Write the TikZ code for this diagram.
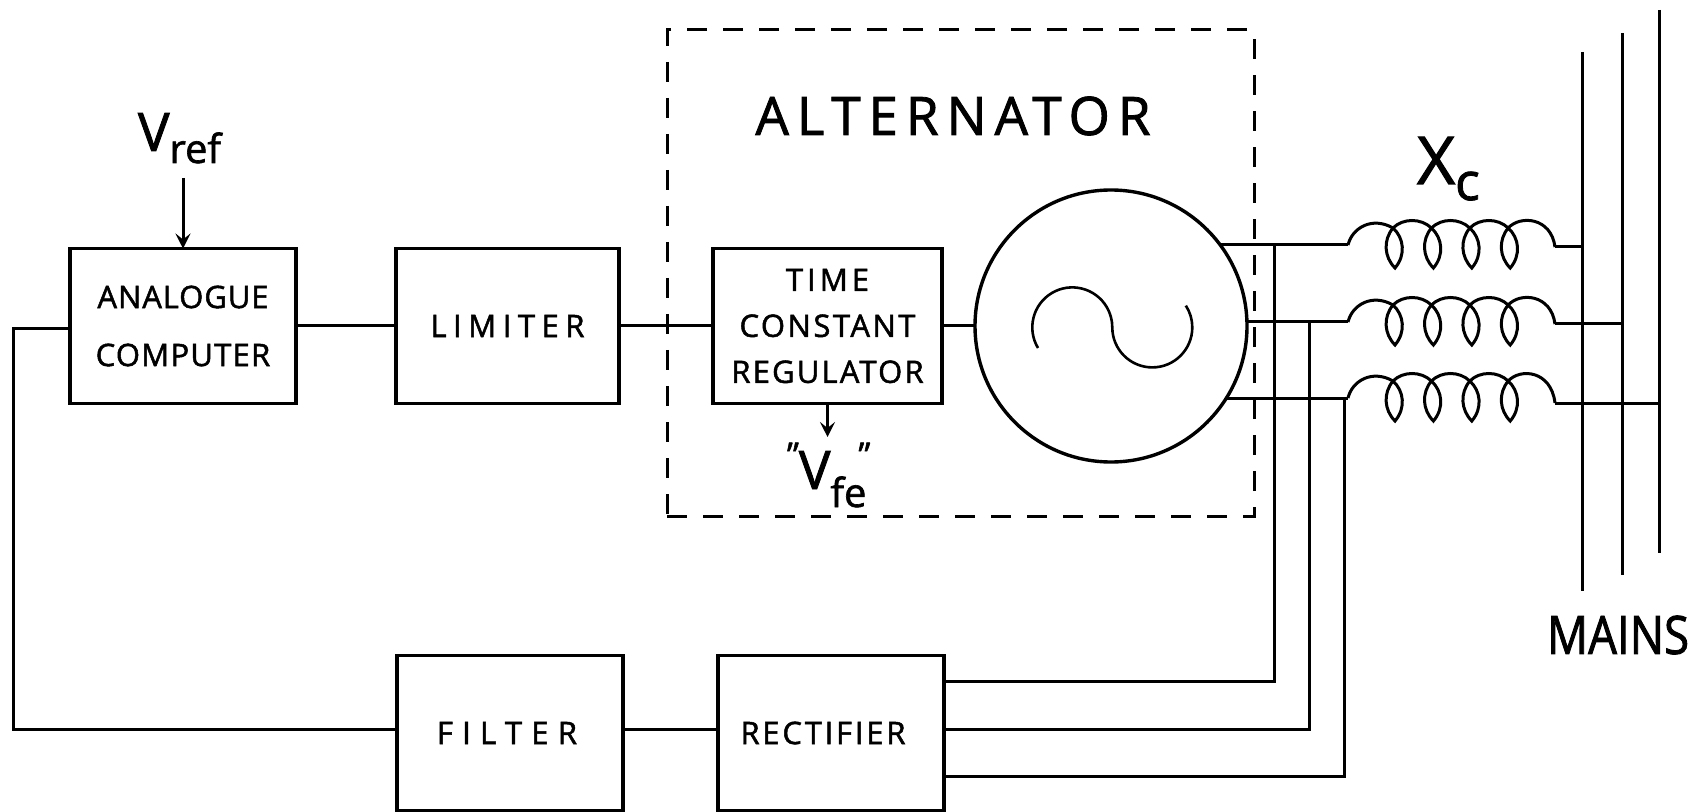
\documentclass[tikz,border=0pt]{standalone}
\usepackage{fontspec}
\setmainfont{Open Sans}[FakeBold=1.6]
\usetikzlibrary{arrows.meta, positioning, calc}
\newcommand{\spaced}[1]{\addfontfeature{LetterSpace=#1}}
\newcommand{\subdrop}[2]{\raisebox{#1}{#2}}
\begin{document}
\begin{tikzpicture}[x=0.5pt, y=-0.5pt,
    blockbox/.style={draw, line width=1.7pt, outer sep=0pt, inner sep=0pt, minimum width=113pt, minimum height=77.5pt, align=center, font=\fontsize{15.5}{23}\selectfont},
    dashbox/.style={draw, line width=1.5pt, outer sep=0pt, dash pattern=on 10pt off 8pt},
    lbl/.style={inner sep=0pt, outer sep=0pt},
    wire/.style={line width=1.5pt},
    arr/.style={-{Stealth[length=7.5pt, width=7.5pt, inset=3pt]}, line width=1.5pt},
    pics/coil/.style={code={
      \coordinate (-in) at (0,0);
      \coordinate (-out) at (207,#1);
      \draw[wire] (0,0) .. controls (4,-17) and (24,-29) .. (45,-17);
      \foreach \i in {0,1,2,3} {
        \draw[wire, shift={(38.4*\i,0)}] (45,-17) .. controls (35,-5) and (36,12) .. (47,23) .. controls (58,10) and (56,-7) .. (45,-17);
      }
      \foreach \i in {0,1,2} {
        \draw[wire, shift={(38.4*\i,0)}] (45,-17) .. controls (55,-27) and (73,-27) .. (83.4,-17);
      }
      \draw[wire] (160.2,-17) .. controls (172,-30) and (203,-28) .. (207,#1);
    }}]
  \useasboundingbox (0,0) rectangle (1695,812);

  % top row
  \node[blockbox] (analog) at (183,326) {\spaced{3}ANALOGUE\\[6pt]\spaced{4}COMPUTER};
  \node[blockbox, minimum width=111.5pt, right=50pt of analog] (limiter) {\subdrop{-2pt}{\spaced{21}LIMITER}};
  \node[blockbox, minimum width=114.5pt, right=47pt of limiter] (regulator) {\spaced{13}TIME\\\spaced{8}CONSTANT\\\spaced{7}REGULATOR};
  \node[draw, circle, line width=1.7pt, outer sep=0pt, minimum size=136pt, right=16.5pt of regulator] (alt) {};
  \node[dashbox, minimum width=293.5pt, minimum height=243pt] (altbox) at (960.5,273) {};

  % bottom row
  \node[blockbox] (filter) at (510,733) {\spaced{30}FILTER\hspace*{3pt}};
  \node[blockbox, right=47.5pt of filter] (rectifier) {\spaced{9}RECTIFIER\hspace*{8pt}};

  % labels
  \node[lbl, font=\fontsize{26.5}{30}\selectfont, anchor=base west] (vref) at (138,151) {V\subdrop{-6pt}{\fontsize{20}{24}\selectfont ref}};
  \node[lbl, font=\fontsize{26.5}{30}\selectfont\spaced{15}] (alttext) at (953,116) {ALTERNATOR};
  \node[lbl, font=\fontsize{26.5}{30}\selectfont, anchor=base west] (vfe) at (787,489) {\subdrop{11pt}{\fontsize{17}{18}\selectfont"}V\subdrop{-9pt}{\fontsize{20}{24}\selectfont fe}\hspace*{-4pt}\subdrop{11pt}{\fontsize{17}{18}\selectfont"}};
  \node[lbl, font=\fontsize{33}{36}\selectfont, anchor=base west] (xc) at (1417,184) {X\subdrop{-8pt}{\fontsize{26}{30}\selectfont c}};
  \node[lbl, font=\fontsize{26.5}{30}\selectfont\addfontfeature{FakeStretch=0.86}] (mains) at (1618,635) {MAINS};

  % sine inside the alternator
  \draw[line width=1.3pt] (1038,348) arc[start angle=211, end angle=0, radius=20pt] arc[start angle=180, end angle=393, radius=20pt];

  % reactors
  \pic (xa) at (1348,245) {coil=2};
  \pic (xb) at (1348,322) {coil=2};
  \pic (xc3) at (1348,398) {coil=5};

  % mains bars
  \coordinate (busAtop) at (1582,52);
  \coordinate (busAbot) at (1582,591);
  \coordinate (busBtop) at (1622,33);
  \coordinate (busBbot) at (1622,575);
  \coordinate (busCtop) at (1659,10);
  \coordinate (busCbot) at (1659,553);
  \draw[wire] (busAtop) -- (busAbot);
  \draw[wire] (busBtop) -- (busBbot);
  \draw[wire] (busCtop) -- (busCbot);

  % forward path
  \coordinate (vrefin) at (183,178);
  \coordinate (vfeout) at (827.5,437);
  \draw[arr] (vrefin) -- (analog.north);
  \draw[arr] (regulator.south) -- (vfeout);
  \draw[wire] (analog) -- (limiter);
  \draw[wire] (limiter) -- (regulator);
  \draw[wire] (regulator) -- (alt);

  % alternator to mains
  \draw[wire] (alt.36 |- xa-in) -- (xa-in);
  \draw[wire] (alt.east |- xb-in) -- (xb-in);
  \draw[wire] (alt.-33 |- xc3-in) -- (xc3-in);
  \draw[wire] (xa-out) -- (xa-out -| busAtop);
  \draw[wire] (xb-out) -- (xb-out -| busBtop);
  \draw[wire] (xc3-out) -- (xc3-out -| busCtop);

  % feedback
  \coordinate (tapA) at (1274,245);
  \coordinate (tapB) at (1309,322);
  \coordinate (tapC) at (1344,398);
  \draw[wire] ([yshift=26pt]rectifier.east) -| (tapA);
  \draw[wire] ([yshift=2pt]rectifier.east) -| (tapB);
  \draw[wire] ([yshift=-21.5pt]rectifier.east) -| (tapC);
  \draw[wire] ([yshift=2pt]rectifier.west) -- ([yshift=2pt]filter.east);
  \coordinate (backcorner) at (13,729);
  \draw[wire] ([yshift=-1.5pt]analog.west) -| (backcorner) -- ([yshift=2pt]filter.west);
\end{tikzpicture}
\end{document}
